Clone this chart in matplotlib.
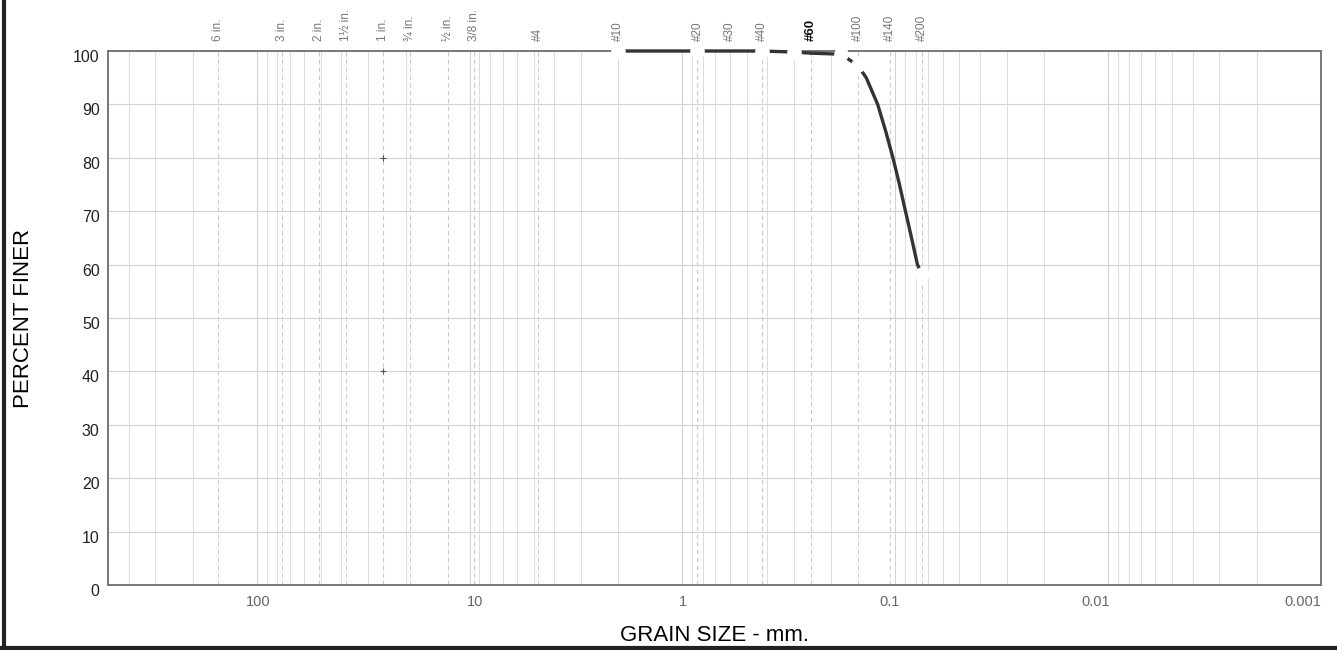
import numpy as np
import matplotlib
matplotlib.use("Agg")
from matplotlib import pyplot as plt
from matplotlib import transforms
from matplotlib.lines import Line2D

plt.rcParams['font.family'] = ['Liberation Sans', 'DejaVu Sans']

# sieve openings shown along the top (mm) and their names
sieve_mm = [152.4, 76.2, 50.8, 38.1, 25.4, 19.05, 12.7, 9.525, 4.75,
            2.0, 0.85, 0.6, 0.425, 0.25, 0.15, 0.106, 0.075]
sieve_names = ['6 in.', '3 in.', '2 in.', '1½ in.', '1 in.', '¾ in.', '½ in.', '3/8 in.', '#4',
               '#10', '#20', '#30', '#40', '#60', '#100', '#140', '#200']

# gradation curve
curve_mm = [2.0, 0.85, 0.425, 0.3, 0.25, 0.18, 0.15, 0.137, 0.121, 0.111, 0.1026,
            0.0956, 0.0896, 0.0839, 0.0787, 0.075]
curve_pct = [100, 100, 100, 99.8, 99.6, 99.4, 97.3, 95.0, 90.0, 85.0, 80.0,
             75.0, 70.0, 65.0, 60.0, 58.3]

# tested points (hollow markers)
test_mm = [2.0, 0.85, 0.425, 0.3, 0.18, 0.15, 0.075]
test_pct = [100, 100, 100, 99.8, 99.4, 97.3, 58.3]

# small cross marks on the sheet
cross_mm = [25.4, 25.4]
cross_pct = [80, 40]

x_ticks = [100, 10, 1, 0.1, 0.01, 0.001]
x_tick_labels = ['100', '10', '1', '0.1', '0.01', '0.001']
y_ticks = list(range(0, 101, 10))

fig = plt.figure(figsize=(13.37, 6.5), dpi=100)
ax = fig.add_axes([108 / 1337, 1 - 585 / 650, (1321 - 108) / 1337, (585 - 51) / 650])

ax.set_xscale('log')
ax.set_xlim(500, 0.001)
ax.set_ylim(0, 100)

# grid
ax.xaxis.set_minor_locator(matplotlib.ticker.LogLocator(base=10, subs=np.arange(2, 10)))
ax.grid(which='major', axis='both', color='#d2d2d2', lw=0.8)
ax.grid(which='minor', axis='x', color='#dcdcdc', lw=0.7)
for s in sieve_mm:
    ax.axvline(s, color='#cacaca', lw=0.8, ls=(0, (4, 3)), zorder=1)

ax.set_xticks(x_ticks)
ax.set_xticklabels(x_tick_labels)
ax.set_yticks(y_ticks)
ax.tick_params(axis='both', which='both', length=0)
ax.tick_params(axis='x', labelsize=10.5, labelcolor='#666666', pad=7)
ax.tick_params(axis='y', labelsize=11.5, labelcolor='#222222', pad=6)

x_offsets = [1, 5, 0, -6, -12, -18]
for lab, dx in zip(ax.get_xticklabels(), x_offsets):
    lab.set_transform(lab.get_transform() + transforms.ScaledTranslation(dx / 100, 0, fig.dpi_scale_trans))
for lab in ax.get_yticklabels():
    lab.set_transform(lab.get_transform() + transforms.ScaledTranslation(0, -5 / 100, fig.dpi_scale_trans))

for sp in ax.spines.values():
    sp.set_color('#777777')
    sp.set_linewidth(1.4)

# sieve names on top
top = ax.secondary_xaxis('top')
top.set_xticks(sieve_mm)
top.set_xticklabels(sieve_names, rotation=90)
top.tick_params(length=0, pad=7, labelsize=8.5, labelcolor='#777777')
top.xaxis.set_minor_locator(matplotlib.ticker.NullLocator())
top.spines['top'].set_visible(False)
for lab in top.get_xticklabels():
    if lab.get_text() == '#60':
        lab.set_fontweight('bold')
        lab.set_color('#111111')
        lab.set_fontsize(9.5)

ax.plot(curve_mm, curve_pct, color='#333333', lw=2.4, zorder=3, clip_on=False,
        solid_joinstyle='round')
ax.plot(test_mm, test_pct, ls='none', marker='o', ms=9.5, mfc='white', mec='white',
        zorder=4, clip_on=False)
ax.plot(cross_mm, cross_pct, ls='none', marker='+', ms=4, color='#555555', mew=0.8, zorder=3)

ax.set_xlabel('GRAIN SIZE - mm.', fontsize=16, labelpad=12)
ax.set_ylabel('PERCENT FINER', fontsize=16, labelpad=28)

# scanned sheet border (left and bottom)
fig.add_artist(Line2D([3.5 / 1337, 3.5 / 1337], [0, 1], transform=fig.transFigure, color='#222222', lw=3))
fig.add_artist(Line2D([0, 1], [2 / 650, 2 / 650], transform=fig.transFigure, color='#222222', lw=3))

fig.savefig('out.png', dpi=100)
